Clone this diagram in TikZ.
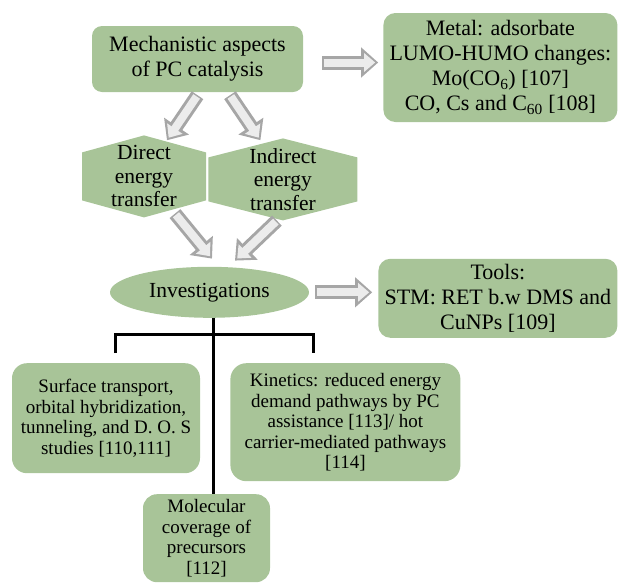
\documentclass[tikz,border=0pt]{standalone}
\usepackage{fontspec}
\setmainfont{Liberation Serif}
\usetikzlibrary{arrows.meta, positioning, shapes.geometric, backgrounds}
\definecolor{leaf}{RGB}{168,196,152}

\begin{document}
\begin{tikzpicture}[
      x=1pt, y=1pt,
      box/.style={fill=leaf, rounded corners=12pt, align=center, inner sep=2pt},
      bigtext/.style={font=\fontsize{22}{25}\selectfont},
      smalltext/.style={font=\fontsize{19}{20.5}\selectfont},
      hexbox/.style={align=center, inner sep=0pt,
                     font=\fontsize{21.5}{23.5}\selectfont,
                     path picture={\fill[leaf] (path picture bounding box.north)
                       -- ([yshift=-#1]path picture bounding box.north east)
                       -- ([yshift=#1]path picture bounding box.south east)
                       -- (path picture bounding box.south)
                       -- ([yshift=#1]path picture bounding box.south west)
                       -- ([yshift=-#1]path picture bounding box.north west) -- cycle;}},
      blockarr/.style={line width=14pt, draw=gray!70,
                       -{Triangle[length=17pt, width=29pt]},
                       postaction={draw=gray!15, line width=8pt,
                                   shorten <=1.5pt, shorten >=3pt,
                                   -{Triangle[length=11pt, width=18pt]}}},
      tree/.style={line width=3pt, draw=black}
    ]
    \useasboundingbox (0,0) rectangle (619,-582);

    \node[box, bigtext, minimum width=211pt, minimum height=66pt, rounded corners=10pt]
      (mech) at (197.5,-59) {Mechanistic aspects\\of PC catalysis};
    \node[box, bigtext, minimum width=234pt, minimum height=109pt,
          right=80pt of mech, yshift=-8.5pt]
      (metal) {Metal: adsorbate\\LUMO-HUMO changes:\\Mo(CO\textsubscript{6}) [107]\\CO, Cs and C\textsubscript{60} [108]};

    \node[hexbox=17pt, minimum width=124pt, minimum height=82pt,
          below=43pt of mech, xshift=-53.5pt] (direct) {Direct\\energy\\transfer};
    \node[hexbox=19pt, minimum width=149pt, minimum height=82pt,
          right=2pt of direct, yshift=-3pt] (indirect) {Indirect\\energy\\transfer};

    \node[ellipse, fill=leaf, font=\fontsize{21.5}{24}\selectfont, inner sep=0pt,
          minimum width=199pt, minimum height=51pt,
          below=49pt of direct, xshift=65.5pt] (invest) {Investigations};
    \node[box, bigtext, minimum width=239pt, minimum height=79pt,
          right=69pt of invest, yshift=-6pt] (tools) {Tools:\\STM: RET b.w DMS and\\CuNPs [109]};

    \node[box, smalltext, minimum width=188pt, minimum height=110pt, rounded corners=15pt,
          below=45pt of invest, xshift=-103.5pt]
      (surface) {Surface transport,\\orbital hybridization,\\tunneling, and D. O. S\\studies [110,111]};
    \node[box, smalltext, minimum width=230pt, minimum height=118pt, rounded corners=16pt,
          right=30pt of surface, yshift=-4pt]
      (kinetics) {Kinetics: reduced energy\\demand pathways by PC\\assistance [113]/ hot\\carrier-mediated pathways\\{[114]}};
    \node[box, smalltext, minimum width=127pt, minimum height=88pt, rounded corners=14pt,
          below=176pt of invest, xshift=-3pt]
      (molec) {Molecular\\coverage of\\precursors\\{[112]}};

    % block arrows
    \draw[blockarr] ([xshift=19pt, yshift=-3.5pt]mech.east) -- ([xshift=-5pt, yshift=-3.5pt]mech.east -| metal.west);
    \draw[blockarr] ([yshift=-3pt]mech.south) -- ([xshift=23pt, yshift=-5pt]direct.north);
    \draw[blockarr] ([xshift=32.5pt, yshift=-3pt]mech.south) -- ([xshift=-22.5pt, yshift=-2pt]indirect.north);
    \draw[blockarr] ([xshift=31pt, yshift=4pt]direct.south) -- ([xshift=2.5pt, yshift=8pt]invest.north);
    \draw[blockarr] ([xshift=-6pt]indirect.south) -- ([xshift=25.5pt, yshift=6pt]invest.north);
    \draw[blockarr] ([xshift=6pt]invest.east) -- ([xshift=-6pt]invest.east -| tools.west);

    % tree below investigations
    \coordinate[below=16pt of invest.south, xshift=3.5pt] (fork);
    \draw[tree] (fork |- invest.south) -- (fork |- molec.north);
    \draw[tree] ([xshift=9pt, yshift=10pt]surface.north) |- (fork)
                -| ([xshift=-32pt, yshift=10pt]kinetics.north);
  \end{tikzpicture}
\end{document}
